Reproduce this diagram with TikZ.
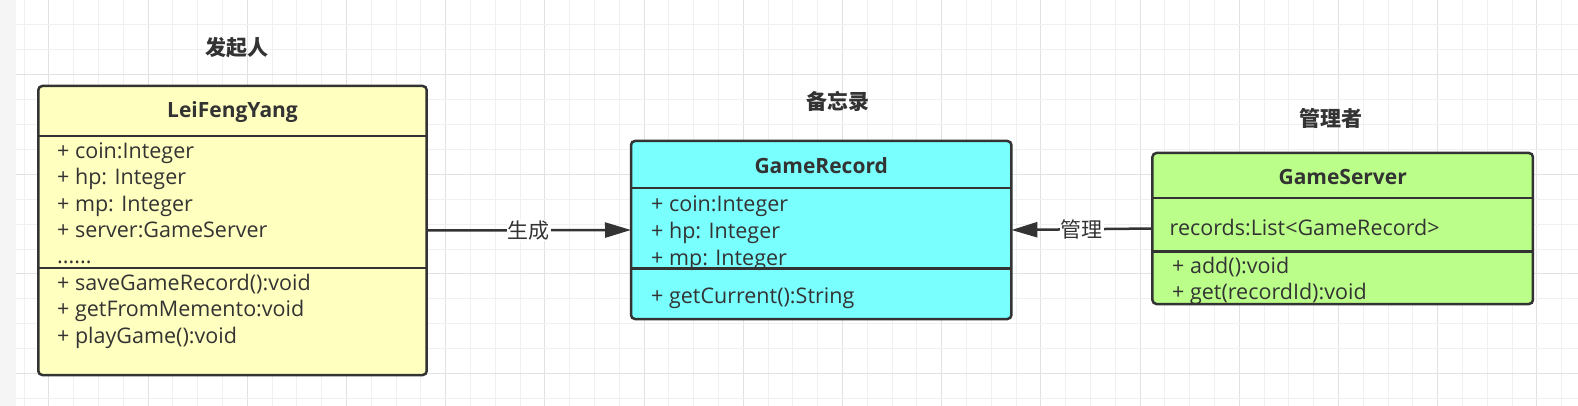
\documentclass[tikz,border=0pt]{standalone}
\usepackage{fontspec}
\setmainfont{Open Sans}
\newfontfamily\cjk{Noto Sans CJK SC}
\usetikzlibrary{arrows.meta}
\definecolor{ink}{HTML}{333333}
\definecolor{yel}{HTML}{FFFFC0}
\definecolor{cyn}{HTML}{7AFFFF}
\definecolor{grn}{HTML}{BBFF8A}
\definecolor{gridminor}{HTML}{F0F0F0}
\definecolor{gridmajor}{HTML}{E2E2E2}
\definecolor{strip}{HTML}{F5F5F5}
\begin{document}
\begin{tikzpicture}[x=1pt,y=-1pt,
  umlbox/.style={draw=ink, line width=2.5pt, rounded corners=4pt, inner sep=0pt, outer sep=0pt},
  divider/.style={draw=ink, line width=2.5pt},
  member/.style={anchor=west, inner sep=0pt, text=ink, text height=16pt, text depth=5pt, font=\fontsize{21.5}{26}\selectfont},
  header/.style={inner sep=0pt, text=ink, font=\fontsize{21}{25}\selectfont\bfseries},
  role/.style={inner sep=0pt, text=ink, font=\cjk\fontsize{21}{25}\selectfont\bfseries},
  conn/.style={draw=ink, line width=2.5pt, -{Triangle[length=26pt,width=15pt]}},
  connlabel/.style={fill=white, inner sep=1pt, text=ink, font=\cjk\fontsize{21}{25}\selectfont}]
% background and grid
\useasboundingbox (0,0) rectangle (1578,406);
\fill[white] (0,0) rectangle (1578,406);
\fill[strip] (0,0) rectangle (16,406);
\foreach \k in {1,...,63} {
  \pgfmathsetmacro{\gx}{-0.8+24.8*\k}
  \pgfmathtruncatemacro{\m}{mod(\k,4)}
  \ifnum\m=2 \draw[gridmajor, line width=1pt] (\gx,0) -- (\gx,406);
  \else \draw[gridminor, line width=1pt] (\gx,0) -- (\gx,406); \fi
}
\foreach \k in {1,...,16} {
  \pgfmathsetmacro{\gy}{24.9*\k}
  \pgfmathtruncatemacro{\m}{mod(\k,4)}
  \ifnum\m=3 \draw[gridmajor, line width=1pt] (16,\gy) -- (1578,\gy);
  \else \draw[gridminor, line width=1pt] (16,\gy) -- (1578,\gy); \fi
}
% role titles
\node[role] (t1) at (236.5,47.5) {发起人};
\node[role] (t2) at (838,101.5) {备忘录};
\node[role] (t3) at (1331,118.5) {管理者};
% box 1: LeiFengYang
\node[umlbox, fill=yel, minimum width=388.4pt, minimum height=289pt] (b1) at (232.5,230.5) {};
\draw[divider] (38.3,136) -- (426.7,136);
\draw[divider] (38.3,268) -- (426.7,268);
\node[header] (h1) at (232.5,112) {LeiFengYang};
\node[member] (m11) at (57,153) {+ coin:Integer};
\node[member] (m12) at (57,179.5) {+ hp: Integer};
\node[member] (m13) at (57,206) {+ mp: Integer};
\node[member] (m14) at (57,232) {+ server:GameServer};
\node[member] (m15) at (57,258) {......};
\node[member] (m16) at (57,285) {+ saveGameRecord():void};
\node[member] (m17) at (57,311) {+ getFromMemento:void};
\node[member] (m18) at (57,337.5) {+ playGame():void};
% box 2: GameRecord
\node[umlbox, fill=cyn, minimum width=380.4pt, minimum height=178pt] (b2) at (821.2,230) {};
\draw[divider] (631,188) -- (1011.4,188);
\draw[divider] (631,268.5) -- (1011.4,268.5);
\node[header] (h2) at (821.2,165.5) {GameRecord};
\node[member] (m21) at (651,206) {+ coin:Integer};
\node[member] (m22) at (651,233) {+ hp: Integer};
\node[member] (m23) at (651,259.5) {+ mp: Integer};
\node[member] (m24) at (651,297.5) {+ getCurrent():String};
% box 3: GameServer
\node[umlbox, fill=grn, minimum width=380.5pt, minimum height=151pt] (b3) at (1342.7,228.5) {};
\draw[divider] (1152.5,198) -- (1533,198);
\draw[divider] (1152.5,251.5) -- (1533,251.5);
\node[header] (h3) at (1342.7,176.5) {GameServer};
\node[member] (m31) at (1169.5,230) {records:List<GameRecord>};
\node[member] (m32) at (1172,268) {+ add():void};
\node[member] (m33) at (1172,294) {+ get(recordId):void};
% connectors
\draw[conn] (b1.east) -- node[connlabel] (l1) {生成} (b2.west);
\draw[conn] (b3.west) -- node[connlabel] (l2) {管理} (b2.east);
\end{tikzpicture}
\end{document}
